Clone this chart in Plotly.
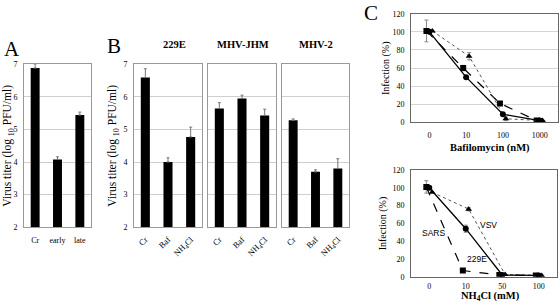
import plotly.graph_objects as go

W, H = 560, 307

# ---------------- data ----------------
a_cats = ["Cr", "early", "late"]
a_vals = [6.88, 4.08, 5.44]
a_errs = [0.12, 0.08, 0.09]

b_cats = ["Cr", "Baf", "NH<sub>4</sub>Cl"]
b_229e = [6.59, 4.0, 4.77]
b_229e_err = [0.27, 0.13, 0.3]
b_jhm = [5.64, 5.95, 5.43]
b_jhm_err = [0.18, 0.1, 0.19]
b_mhv2 = [5.28, 3.70, 3.80]
b_mhv2_err = [0.04, 0.06, 0.3]
b_titles = ["229E", "MHV-JHM", "MHV-2"]

baf_cats = ["0", "10", "100", "1000"]
baf_circle = [100, 50, 9, 2]
baf_square = [101, 60, 21, 2]
baf_triangle = [101, 73, 4, 2]
baf_circle_err = [0, 0, 0, 0]
baf_square_err = [12, 3, 2, 0]
baf_triangle_err = [0, 4, 2, 0]

nh4_cats = ["0", "10", "50", "100"]
nh4_circle = [100, 54, 2, 1.5]     # 229E
nh4_square = [101, 7, 2, 1.5]      # SARS
nh4_triangle = [95, 76, 2.5, 1.5]  # VSV
nh4_circle_err = [0, 4, 0, 0]
nh4_square_err = [7, 0, 0, 0]
nh4_triangle_err = [0, 2, 0, 0]

SERIF = "Liberation Serif"
SANS = "Liberation Sans"


def px(x, y):
    return x / W, 1 - y / H


def xd(x0, x1):
    return [x0 / W, x1 / W]


def yd(y0, y1):
    return [1 - y1 / H, 1 - y0 / H]


fig = go.Figure()

# ---------------- bar panels ----------------
bar_panels = [
    ("x", "y", a_cats, a_vals, a_errs, xd(24, 91)),
    ("x2", "y2", b_cats, b_229e, b_229e_err, xd(134, 202)),
    ("x3", "y3", b_cats, b_jhm, b_jhm_err, xd(208, 276)),
    ("x4", "y4", b_cats, b_mhv2, b_mhv2_err, xd(282, 349)),
]

layout = dict(
    width=W, height=H, margin=dict(l=0, r=0, t=0, b=0),
    paper_bgcolor="white", plot_bgcolor="white", showlegend=False,
    font=dict(family=SERIF, color="black"),
)

for i, (xa, ya, cats, vals, errs, dom) in enumerate(bar_panels):
    fig.add_trace(go.Bar(
        x=list(range(len(cats))), y=vals, xaxis=xa, yaxis=ya,
        marker=dict(color="black", line=dict(width=0)), width=0.4,
        error_y=dict(type="data", array=errs, arrayminus=[0] * len(errs),
                     color="#777", thickness=1, width=1.5),
    ))
    xk = "xaxis" + ("" if i == 0 else str(i + 1))
    yk = "yaxis" + ("" if i == 0 else str(i + 1))
    layout[xk] = dict(
        domain=dom, anchor=ya, range=[-0.5, 2.5],
        tickvals=list(range(len(cats))), ticktext=cats,
        tickangle=0 if i == 0 else -45,
        tickfont=dict(family=SERIF, size=8 if i == 0 else 8.5),
        showline=True, linecolor="#999", linewidth=1, mirror=True,
        ticks="", showgrid=False, zeroline=False,
        ticklabelstandoff=5 if i == 0 else 3,
    )
    layout[yk] = dict(
        domain=yd(62, 230), anchor=xa, range=[2, 7],
        tickvals=[2, 3, 4, 5, 6, 7],
        showticklabels=(i <= 1),
        tickfont=dict(family=SERIF, size=8),
        showline=True, linecolor="#999", linewidth=1, mirror=True,
        showgrid=True, gridcolor="#cfcfcf", gridwidth=1,
        ticks="", zeroline=False, ticklabelstandoff=4,
    )

# ---------------- line panels ----------------
line_panels = [
    ("x5", "y5", baf_cats, baf_circle, baf_square, baf_triangle,
     baf_circle_err, baf_square_err, baf_triangle_err,
     xd(411, 558), yd(10, 122), True, 5),
    ("x6", "y6", nh4_cats, nh4_circle, nh4_square, nh4_triangle,
     nh4_circle_err, nh4_square_err, nh4_triangle_err,
     xd(411, 557), yd(171, 281), False, 2),
]

for j, (xa, ya, cats, circ, sq, tri, ce, se, te, xdom, ydom, grid, stand) in enumerate(line_panels):
    idx = list(range(len(cats)))
    series = [
        (sq, se, -0.08, "square", dict(color="black", width=1.2, dash="dash")),
        (tri, te, 0.08, "triangle-up", dict(color="#555", width=1, dash="dot")),
        (circ, ce, 0.0, "circle", dict(color="black", width=1.3, dash="solid")),
    ]
    for vals, errs, off, sym, line in series:
        fig.add_trace(go.Scatter(
            x=[k + off for k in idx], y=vals, xaxis=xa, yaxis=ya,
            mode="lines+markers", line=line,
            marker=dict(symbol=sym, size=6, color="black"),
            error_y=dict(type="data", array=errs, color="#888",
                         thickness=1, width=2),
        ))
    k = 5 + j
    layout["xaxis%d" % k] = dict(
        domain=xdom, anchor=ya, range=[-0.5, 3.5],
        tickvals=idx, ticktext=cats,
        tickfont=dict(family=SERIF, size=8),
        showline=True, linecolor="#666", linewidth=1, mirror=True,
        ticks="", showgrid=False, zeroline=False, ticklabelstandoff=stand,
    )
    layout["yaxis%d" % k] = dict(
        domain=ydom, anchor=xa, range=[0, 120],
        tickvals=[0, 20, 40, 60, 80, 100, 120],
        tickfont=dict(family=SERIF, size=8),
        showline=True, linecolor="#666", linewidth=1, mirror=True,
        showgrid=grid, gridcolor="#d5d5d5", gridwidth=1,
        ticks="", zeroline=False, ticklabelstandoff=4,
    )

fig.update_layout(**layout)

# ---------------- annotations ----------------
def ann(text, x, y, size, family=SERIF, angle=0, bold=False, color="black"):
    px_, py_ = px(x, y)
    if bold:
        text = "<b>" + text + "</b>"
    fig.add_annotation(
        text=text, x=px_, y=py_, xref="paper", yref="paper",
        showarrow=False, xanchor="center", yanchor="middle",
        textangle=angle, font=dict(family=family, size=size, color=color),
    )

ann("A", 12, 46, 21)
ann("B", 114, 43, 21)
ann("C", 371, 9, 21)

for t, cx in zip(b_titles, [174, 243, 316]):
    ann(t, cx, 42, 10.5, bold=True)

ann("Virus titer (log <sub>10</sub> PFU/ml)", 8, 146, 11.5, angle=-90)
ann("Virus titer (log <sub>10</sub> PFU/ml)", 113, 146, 11.5, angle=-90)

ann("Infection (%)", 386, 66, 10, angle=-90)
ann("Infection (%)", 383, 226, 10, angle=-90)

ann("Bafilomycin (nM)", 490, 148, 10.5, bold=True)
ann("NH<sub>4</sub>Cl (mM)", 490, 301, 10.5, bold=True)

ann("VSV", 488, 228, 8.5, family=SANS)
ann("SARS", 433, 236, 8.5, family=SANS)
ann("229E", 477, 263, 8.5, family=SANS)

fig.write_html(
    "out.html",
    config={"displayModeBar": False},
    post_script="document.body.style.margin='0';document.body.style.padding='0';"
                "document.documentElement.style.overflow='hidden';",
)
